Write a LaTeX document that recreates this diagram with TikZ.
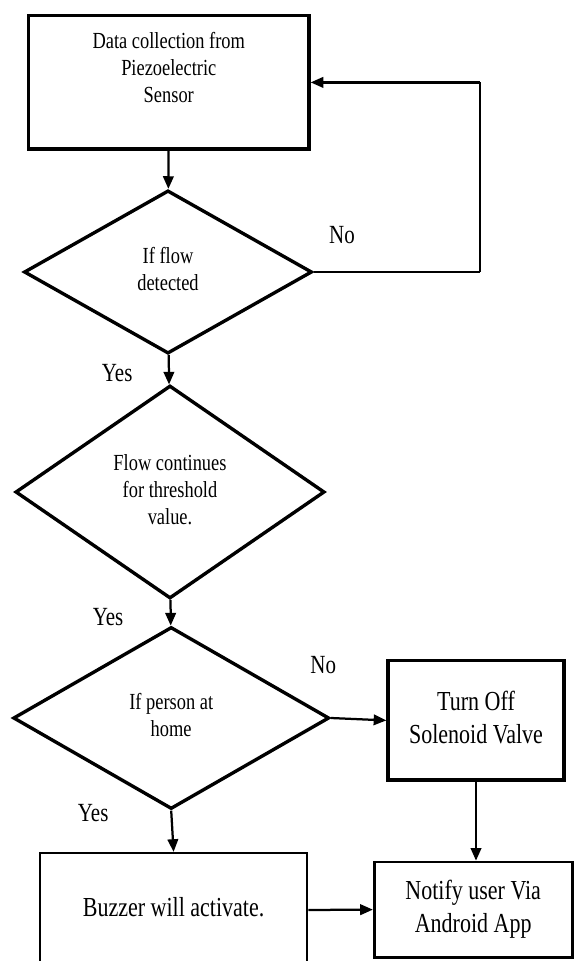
\documentclass[tikz,border=0pt]{standalone}
\usepackage{fontspec}
\setmainfont{Liberation Serif}
\usepackage{graphicx}
\usetikzlibrary{arrows.meta,shapes.geometric}
\pgfdeclarelayer{nodelayer}
\pgfdeclarelayer{edgelayer}
\pgfsetlayers{edgelayer,nodelayer,main}
\newcommand{\tallbox}[1]{\scalebox{1}[1.25]{\begin{tabular}{@{}c@{}}#1\end{tabular}}}
\tikzstyle{process box}=[fill=white, draw=black, shape=rectangle, line width=2.4pt]
\tikzstyle{end box}=[fill=white, draw=black, shape=rectangle, line width=1.6pt]
\tikzstyle{decision}=[fill=white, draw=black, shape=diamond, line width=2.4pt]
\tikzstyle{small text}=[font=\fontsize{13.1}{15.4}\selectfont]
\tikzstyle{big text}=[font=\fontsize{15.65}{18.5}\selectfont]
\tikzstyle{branch label}=[font=\fontsize{14.9}{17}\selectfont]
\tikzstyle{none}=[fill=none, draw=none, shape=circle, scale=0]
\tikzstyle{flow line}=[draw=black, line width=1.6pt]
\tikzstyle{flow edge}=[draw=black, line width=1.6pt, -{Triangle[length=9pt, width=7.5pt]}]

\begin{document}
\begin{tikzpicture}
	\useasboundingbox (0, 0) rectangle (14.35, -24.025);
	\begin{pgfonlayer}{nodelayer}
		\node [style=process box, minimum width=7.01cm, minimum height=3.33cm] (0) at (4.22, -2.06) {};
		\node [style=small text] (9) at (4.22, -1.75) {\tallbox{Data collection from\\Piezoelectric\\Sensor}};
		\node [style=decision, small text, minimum width=7.2cm, minimum height=4.08cm] (1) at (4.2, -6.8) {\tallbox{If flow\\detected}};
		\node [style=decision, small text, minimum width=7.73cm, minimum height=5.15cm] (2) at (4.25, -12.3) {\tallbox{Flow continues\\for threshold\\value.}};
		\node [style=decision, small text, minimum width=7.9cm, minimum height=4.55cm] (3) at (4.28, -17.95) {\tallbox{If person at\\home}};
		\node [style=process box, big text, minimum width=4.4cm, minimum height=2.98cm] (4) at (11.9, -18.01) {\tallbox{Turn Off\\Solenoid Valve}};
		\node [style=end box, big text, minimum width=6.68cm, minimum height=2.85cm] (5) at (4.34, -22.75) {\tallbox{Buzzer will activate.}};
		\node [style=process box, big text, line width=1.9pt, minimum width=4.95cm, minimum height=2.38cm] (8) at (11.83, -22.74) {\tallbox{Notify user Via\\Android App}};
		\node [style=none] (6) at (12.0, -6.8) {};
		\node [style=none] (7) at (12.0, -2.06) {};
		\node [style=branch label] (10) at (8.55, -5.93) {\tallbox{No}};
		\node [style=branch label] (11) at (2.93, -9.38) {\tallbox{Yes}};
		\node [style=branch label] (12) at (2.7, -15.48) {\tallbox{Yes}};
		\node [style=branch label] (13) at (8.08, -16.7) {\tallbox{No}};
		\node [style=branch label] (14) at (2.33, -20.38) {\tallbox{Yes}};
	\end{pgfonlayer}
	\begin{pgfonlayer}{edgelayer}
		\draw [style=flow edge] (0) to (1);
		\draw [style=flow line] (1.east) to (6.center);
		\draw [style=flow line] (6.center) to (7.center);
		\draw [style=flow edge] (7.center) to (0.east);
		\draw [style=flow edge] (1) to (2);
		\draw [style=flow edge] (2) to (3);
		\draw [style=flow edge] (3.east) to (4.west);
		\draw [style=flow edge] (3.south) to (5.north);
		\draw [style=flow edge] (4.south) to (4.south |- 8.north);
		\draw [style=flow edge] (5.east) to (8.west);
	\end{pgfonlayer}
\end{tikzpicture}
\end{document}
